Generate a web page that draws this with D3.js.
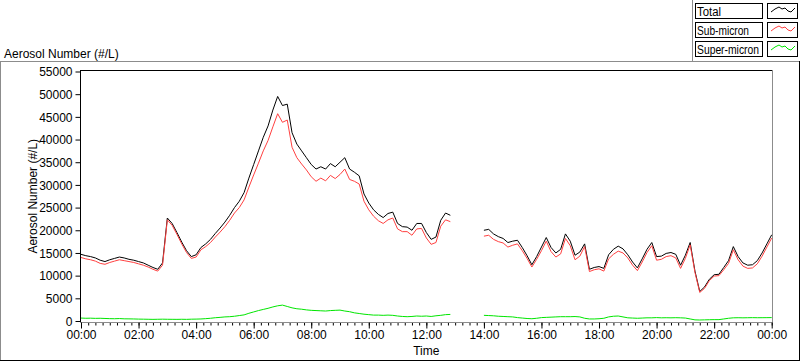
<!DOCTYPE html>
<html>
<head>
<meta charset="utf-8">
<script src="https://cdn.jsdelivr.net/npm/d3@7"></script>
<style>
  html, body { margin: 0; padding: 0; background: #fff; }
  svg { display: block; font-family: Arial, 'Liberation Sans', sans-serif; font-size: 12px; }
</style>
</head>
<body>
<div id="chart"></div>
<script>
// sample step of the series (minutes), first sample at 00:00
const sampleStep = 10

// Total (#/L), 00:00 -> 24:00, null = no data
const total = [
  14700, 14400, 14200, 13900, 13400, 13100, 13500, 13800, 14100, 13900, 13600, 13400,
  13100, 12800, 12300, 11800, 11400, 12800, 22700, 21500, 19500, 17400, 15500, 14200,
  14600, 16200, 17000, 18000, 19300, 20500, 21800, 23300, 25000, 26400, 28300, 31500,
  34500, 37500, 40500, 43000, 46500, 49500, 47500, 47800, 41500, 39000, 37500, 36000,
  34500, 33500, 34000, 33500, 34700, 34000, 35000, 36000, 33500, 32800, 32000, 28000,
  26000, 24500, 23500, 22800, 23700, 24000, 21500, 20800, 20700, 20000, 21500, 21500,
  19500, 18000, 18500, 22200, 23800, 23300, null, null, null, null, null, null,
  20000, 20200, 19200, 18600, 18200, 17300, 17600, 17800, 16200, 14400, 12400, 14200,
  16300, 18400, 16200, 15000, 15800, 19200, 17600, 14500, 15200, 17000, 11400, 11800,
  12000, 11600, 14600, 15800, 16500, 15900, 14600, 13000, 11700, 13700, 15800, 17300,
  14200, 14300, 14900, 15100, 14700, 12300, 14500, 17300, 11000, 6500, 7500, 9200,
  10200, 10300, 11800, 13300, 16400, 14200, 12800, 12300, 12400, 13300, 15000, 17000,
  19000
]

// Sub-micron (#/L)
const subMicron = [
  14000, 13700, 13500, 13200, 12700, 12500, 12900, 13200, 13500, 13300, 13100, 12900,
  12600, 12300, 11900, 11400, 11000, 12300, 22300, 21100, 19100, 17000, 15100, 13800,
  14100, 15700, 16400, 17300, 18500, 19600, 20800, 22200, 23800, 25000, 26700, 29500,
  32200, 34800, 37500, 39800, 42800, 45700, 43800, 44300, 38300, 36000, 34600, 33300,
  31800, 30800, 31500, 30900, 32100, 31400, 32300, 33500, 31200, 30800, 30200, 26400,
  24500, 23100, 22100, 21500, 22300, 22700, 20300, 19700, 19700, 18900, 20300, 20400,
  18300, 16900, 17300, 20900, 22300, 21900, null, null, null, null, null, null,
  18700, 18900, 18000, 17500, 17200, 16300, 16700, 17000, 15500, 13800, 11900, 13600,
  15500, 17600, 15300, 14100, 14800, 18200, 16600, 13500, 14300, 16400, 10900, 11300,
  11500, 11000, 13700, 14700, 15400, 15000, 13900, 12300, 11100, 13000, 15100, 16600,
  13400, 13600, 14200, 14400, 13900, 11600, 13800, 16800, 10700, 6300, 7200, 8900,
  9900, 10000, 11300, 12700, 15700, 13500, 12100, 11600, 11700, 12600, 14300, 16300,
  18300
]

// Super-micron (#/L)
const superMicron = [
  650, 600, 620, 580, 600, 560, 520, 500, 540, 480, 470, 450,
  420, 400, 380, 360, 380, 400, 380, 370, 360, 380, 360, 400,
  420, 450, 520, 600, 720, 800, 900, 950, 1050, 1200, 1350, 1700,
  2000, 2300, 2550, 2800, 3100, 3350, 3500, 3200, 2900, 2700, 2600, 2450,
  2350, 2300, 2250, 2200, 2300, 2350, 2400, 2200, 2050, 1800, 1650, 1500,
  1400, 1300, 1300, 1250, 1300, 1250, 1100, 1000, 950, 1000, 1100, 1050,
  1100, 1000, 1150, 1250, 1400, 1450, null, null, null, null, null, null,
  1250, 1200, 1150, 1050, 1000, 950, 900, 750, 650, 550, 500, 600,
  750, 800, 850, 900, 950, 950, 950, 980, 900, 600, 450, 450,
  500, 600, 900, 1050, 1100, 900, 700, 650, 600, 650, 700, 700,
  750, 700, 720, 700, 730, 700, 650, 450, 250, 220, 250, 280,
  300, 300, 450, 600, 700, 720, 700, 720, 740, 720, 730, 740,
  750
]

const seriesNames = ['Total', 'Sub-micron', 'Super-micron']
const seriesColors = ['#000000', '#ff4040', '#00e600']
const yTicks = [0, 5000, 10000, 15000, 20000, 25000, 30000, 35000, 40000, 45000, 50000, 55000]
const xTickLabels = ['00:00', '02:00', '04:00', '06:00', '08:00', '10:00', '12:00',
  '14:00', '16:00', '18:00', '20:00', '22:00', '00:00']

const config = {
  width: 800,
  height: 361,
  plot: { left: 81, right: 771.7, top: 71.5, bottom: 321 },
  frameGray: '#8c8c8c',
  // legend label widths (the legend font is narrower than the axis font)
  legendTextWidth: [24, 52, 62]
}

const { width, height, plot, frameGray, legendTextWidth } = config

const svg = d3.select('#chart')
  .append('svg')
  .attr('width', width)
  .attr('height', height)

svg.append('rect')
  .attr('width', width)
  .attr('height', height)
  .attr('fill', '#fff')

// panel frame
const panel = svg.append('g').attr('class', 'panel')
panel.append('line').attr('x1', 0).attr('x2', width).attr('y1', 61.5).attr('y2', 61.5).attr('stroke', frameGray)
panel.append('line').attr('x1', 0.5).attr('x2', 0.5).attr('y1', 61).attr('y2', height).attr('stroke', frameGray)
panel.append('line').attr('x1', width - 0.5).attr('x2', width - 0.5).attr('y1', 61).attr('y2', height).attr('stroke', '#000')
panel.append('line').attr('x1', 0).attr('x2', width).attr('y1', height - 0.5).attr('y2', height - 0.5).attr('stroke', '#000')

// title above the panel
svg.append('text')
  .attr('x', 4)
  .attr('y', 58)
  .attr('fill', '#000')
  .text('Aerosol Number (#/L)')

// scales
const x = d3.scaleLinear().domain([0, 1440]).range([plot.left, plot.right])
const y = d3.scaleLinear().domain([0, 55000]).range([plot.bottom, plot.top])

// plot frame: black top/left, gray right/bottom
const frame = svg.append('g').attr('class', 'frame')
frame.append('line').attr('x1', 80.5).attr('x2', 772.5).attr('y1', 70.5).attr('y2', 70.5).attr('stroke', '#000')
frame.append('line').attr('x1', 772.5).attr('x2', 772.5).attr('y1', 70).attr('y2', 323).attr('stroke', frameGray)

// y axis
const yAxis = svg.append('g')
  .attr('transform', 'translate(80.5,0)')
  .call(d3.axisLeft(y).tickValues(yTicks).tickSize(5).tickPadding(3).tickFormat(d => d))
yAxis.select('.domain').attr('d', 'M0,70V323').attr('stroke', '#000')
yAxis.selectAll('text').attr('font-size', 12).attr('font-family', 'Arial, Liberation Sans, sans-serif').attr('fill', '#000').attr('dy', '0.36em')

// x axis, minor ticks every 15 min
const minorTicks = d3.range(0, 1441, 15)
const xMinor = svg.append('g')
  .attr('transform', 'translate(0,322.5)')
  .call(d3.axisBottom(x).tickValues(minorTicks).tickSize(3).tickFormat(''))
xMinor.select('.domain').remove()

const xAxis = svg.append('g')
  .attr('transform', 'translate(0,322.5)')
  .call(d3.axisBottom(x).tickValues(xTickLabels.map((d, i) => i * 120)).tickSize(6).tickPadding(4)
    .tickFormat((d, i) => xTickLabels[i]))
xAxis.select('.domain').attr('d', 'M80,0H773').attr('stroke', frameGray)
xAxis.selectAll('text').attr('font-size', 12).attr('font-family', 'Arial, Liberation Sans, sans-serif').attr('fill', '#000').attr('dy', '0.55em')
svg.selectAll('.tick line').attr('stroke', '#000')

// axis titles
svg.append('text')
  .attr('x', (plot.left + plot.right) / 2)
  .attr('y', 355)
  .attr('text-anchor', 'middle')
  .text('Time')

svg.append('text')
  .attr('transform', `translate(37,${(plot.top + plot.bottom) / 2}) rotate(-90)`)
  .attr('text-anchor', 'middle')
  .text('Aerosol Number (#/L)')

// series lines
const series = [total, subMicron, superMicron]
const line = d3.line()
  .defined(d => d != null)
  .x((d, i) => x(i * sampleStep))
  .y(d => y(d))

svg.append('g')
  .attr('class', 'lines')
  .selectAll('path')
  .data(series)
  .join('path')
  .attr('d', line)
  .attr('fill', 'none')
  .attr('stroke', (d, i) => seriesColors[i])
  .attr('stroke-width', 1)

// legend (top right)
const legend = svg.append('g').attr('class', 'legend')
legend.append('line').attr('x1', 692.5).attr('x2', 692.5).attr('y1', 0).attr('y2', 62).attr('stroke', frameGray)
const rowTop = [3, 22, 41]
const rows = legend.selectAll('.legend-row')
  .data(seriesNames)
  .join('g')
  .attr('class', 'legend-row')
  .attr('transform', (d, i) => `translate(0,${rowTop[i]})`)
rows.append('rect')
  .attr('x', 695.5).attr('y', 0.5).attr('width', 67).attr('height', 15)
  .attr('fill', '#fff').attr('stroke', '#000')
rows.append('text')
  .attr('x', 697).attr('y', 12.5)
  .attr('textLength', (d, i) => legendTextWidth[i])
  .attr('lengthAdjust', 'spacingAndGlyphs')
  .text(d => d)
rows.append('rect')
  .attr('x', 767.5).attr('y', 0.5).attr('width', 30).attr('height', 15)
  .attr('fill', '#fff').attr('stroke', '#000')
rows.append('polyline')
  .attr('points', '771,9 775,6 779,4 782,6 785,5 788,8 791,9 795,5')
  .attr('fill', 'none')
  .attr('stroke', (d, i) => seriesColors[i])
</script>
</body>
</html>
